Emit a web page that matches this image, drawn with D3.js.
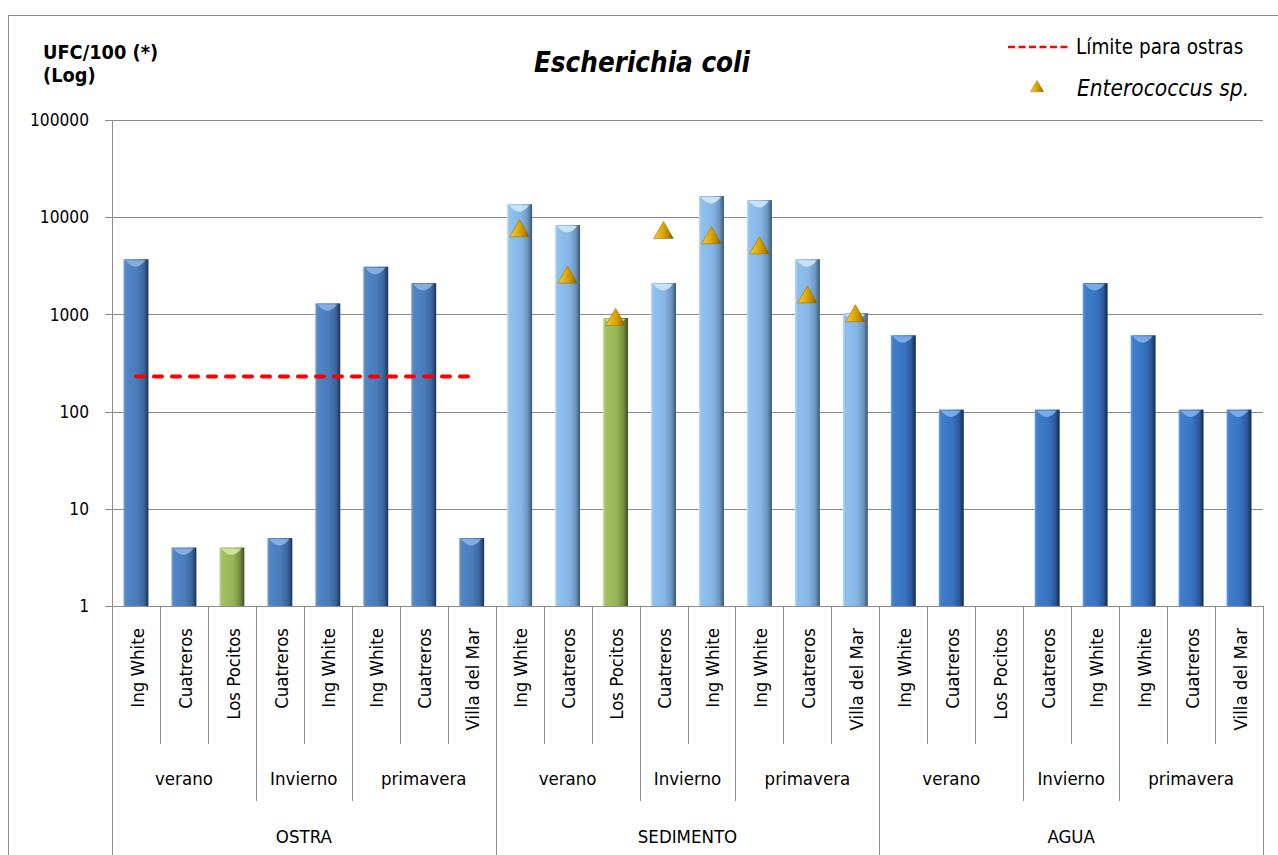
<!DOCTYPE html>
<html>
<head>
<meta charset="utf-8">
<script src="https://cdn.jsdelivr.net/npm/d3@7"></script>
<style>
  html, body { margin: 0; padding: 0; background: #ffffff; }
  svg { display: block; }
  text { font-family: "DejaVu Sans Condensed", "Liberation Sans", sans-serif; font-stretch: condensed; fill: #000; }
</style>
</head>
<body>
<svg id="chart" width="1278" height="855"></svg>
<script>
// ---------- data ----------
const groups = ["OSTRA", "SEDIMENTO", "AGUA"];
const seasons = ["verano", "Invierno", "primavera"];
const seasonSizes = [3, 2, 3];
const sites = [
  "Ing White", "Cuatreros", "Los Pocitos", "Cuatreros", "Ing White", "Ing White", "Cuatreros", "Villa del Mar",
  "Ing White", "Cuatreros", "Los Pocitos", "Cuatreros", "Ing White", "Ing White", "Cuatreros", "Villa del Mar",
  "Ing White", "Cuatreros", "Los Pocitos", "Cuatreros", "Ing White", "Ing White", "Cuatreros", "Villa del Mar"
];
const ecoli = [
  3700, 4, 4, 5, 1300, 3100, 2100, 5,
  13600, 8300, 920, 2100, 16500, 15000, 3700, 1030,
  610, 105, null, 105, 2100, 610, 105, 105
];
const enterococcus = [
  null, null, null, null, null, null, null, null,
  7200, 2400, 880, 6900, 6100, 4800, 1500, 960,
  null, null, null, null, null, null, null, null
];
const limite = [
  230, 230, 230, 230, 230, 230, 230, 230,
  null, null, null, null, null, null, null, null,
  null, null, null, null, null, null, null, null
];
const yTicks = [1, 10, 100, 1000, 10000, 100000];
const titleText = "Escherichia coli";
const yTitle = ["UFC/100 (*)", "(Log)"];
const legendLimit = "Límite para ostras";
const legendEntero = "Enterococcus sp.";

// ---------- layout ----------
const svg = d3.select("#chart");
const plot = { left: 112, right: 1263, top: 120, bottom: 606 };
const n = sites.length;
const perGroup = n / groups.length;

const x = d3.scaleBand().domain(d3.range(n)).range([plot.left, plot.right]).padding(0);
const y = d3.scaleLog().domain([1, 100000]).range([plot.bottom, plot.top]);
const bw = x.bandwidth() * 0.52;
const cx = i => x(i) + x.bandwidth() / 2;

// ---------- defs ----------
const defs = svg.append("defs");
const palettes = {
  ostra: ["#79a2d6", "#5185c4", "#4a7bbb", "#3b659c", "#1d3352"],
  sed:   ["#b8d9f7", "#90c0ec", "#86b6e6", "#6c96c2", "#3a5570"],
  agua:  ["#6a9ddd", "#3f7dcc", "#3874c2", "#2c5b99", "#15294a"],
  green: ["#c4dc92", "#a2c262", "#96b755", "#728d3e", "#3e4f22"]
};
const caps = { ostra: "#8db3e6", sed: "#cfe7fb", agua: "#7fb0ea", green: "#d2e6a6" };
Object.entries(palettes).forEach(([k, c]) => {
  const g = defs.append("linearGradient").attr("id", "g-" + k).attr("x1", "0").attr("x2", "1").attr("y1", "0").attr("y2", "0");
  [[0, c[0]], [0.1, c[1]], [0.55, c[2]], [0.82, c[3]], [1, c[4]]].forEach(([o, col]) =>
    g.append("stop").attr("offset", o).attr("stop-color", col));
});
const tg = defs.append("linearGradient").attr("id", "g-tri").attr("x1", "0").attr("x2", "1").attr("y1", "0").attr("y2", "0");
[[0, "#f6cc4a"], [0.45, "#e0a800"], [0.75, "#b78600"], [1, "#6e5000"]].forEach(([o, col]) =>
  tg.append("stop").attr("offset", o).attr("stop-color", col));

function paletteFor(i) {
  if (sites[i] === "Los Pocitos") return "green";
  const gi = Math.floor(i / perGroup);
  return ["ostra", "sed", "agua"][gi];
}

// ---------- outer frame ----------
svg.append("rect").attr("x", 8.5).attr("y", 15.5).attr("width", 1300).attr("height", 900)
  .attr("fill", "none").attr("stroke", "#8c8c8c").attr("stroke-width", 1);

// ---------- gridlines & y axis ----------
const gridCol = "#8c8c8c";
svg.append("g").selectAll("line").data(yTicks).join("line")
  .attr("x1", plot.left - 7).attr("x2", plot.right)
  .attr("y1", d => Math.round(y(d)) + 0.5).attr("y2", d => Math.round(y(d)) + 0.5)
  .attr("stroke", gridCol).attr("stroke-width", 1);

svg.append("g").selectAll("text").data(yTicks).join("text")
  .attr("x", 89).attr("y", d => y(d)).attr("dy", "0.36em")
  .attr("text-anchor", "end").attr("font-size", 17.2).text(d => d3.format("d")(d));

// left axis line
svg.append("line").attr("x1", plot.left + 0.5).attr("x2", plot.left + 0.5)
  .attr("y1", plot.top).attr("y2", 855).attr("stroke", gridCol);
svg.append("line").attr("x1", plot.right + 0.5).attr("x2", plot.right + 0.5)
  .attr("y1", plot.bottom).attr("y2", 855).attr("stroke", gridCol);

// ---------- category axis (multi-level) ----------
const lvl1 = 744, lvl2 = 801, lvl3 = 855;
const catAxis = svg.append("g");
const seasonStarts = [];
let acc = 0;
seasonSizes.forEach(s => { seasonStarts.push(acc); acc += s; });
for (let i = 1; i < n; i++) {
  const within = i % perGroup;
  let y2 = lvl1;
  if (within === 0) y2 = lvl3;
  else if (seasonStarts.includes(within)) y2 = lvl2;
  catAxis.append("line").attr("x1", Math.round(x(i)) + 0.5).attr("x2", Math.round(x(i)) + 0.5)
    .attr("y1", plot.bottom).attr("y2", y2).attr("stroke", gridCol);
}
catAxis.selectAll("text.site").data(sites).join("text").attr("class", "site")
  .attr("transform", (d, i) => `translate(${cx(i) + 1},628) rotate(-90)`)
  .attr("dy", "0.36em").attr("text-anchor", "end").attr("font-size", 18.5).text(d => d);

groups.forEach((gname, gi) => {
  const g0 = gi * perGroup;
  seasons.forEach((s, si) => {
    const a = g0 + seasonStarts[si], b = a + seasonSizes[si] - 1;
    catAxis.append("text").attr("x", (cx(a) + cx(b)) / 2).attr("y", 778).attr("dy", "0.36em")
      .attr("text-anchor", "middle").attr("font-size", 18.5).text(s);
  });
  catAxis.append("text").attr("x", (cx(g0) + cx(g0 + perGroup - 1)) / 2).attr("y", 836).attr("dy", "0.36em")
    .attr("text-anchor", "middle").attr("font-size", 18.5).text(gname);
});

// ---------- bars ----------
const barData = ecoli.map((v, i) => ({ v, i })).filter(d => d.v != null);
const bars = svg.append("g");
bars.selectAll("rect").data(barData).join("rect")
  .attr("x", d => cx(d.i) - bw / 2).attr("width", bw)
  .attr("y", d => y(d.v)).attr("height", d => y(1) - y(d.v))
  .attr("fill", d => `url(#g-${paletteFor(d.i)})`);
bars.selectAll("path").data(barData).join("path")
  .attr("d", d => {
    const x0 = cx(d.i) - bw / 2 + 2, x1 = cx(d.i) + bw / 2 - 3, t = y(d.v) + 1;
    return `M${x0},${t} L${x1},${t} Q${(x0 + x1) / 2},${t + 13} ${x0},${t} Z`;
  })
  .attr("fill", d => caps[paletteFor(d.i)]).attr("opacity", 0.9);

// ---------- limit line ----------
const limData = limite.map((v, i) => ({ v, i })).filter(d => d.v != null);
svg.append("path").datum(limData)
  .attr("d", d3.line().x(d => cx(d.i)).y(d => y(d.v)))
  .attr("fill", "none").attr("stroke", "#ff0000").attr("stroke-width", 4)
  .attr("stroke-dasharray", "8,10").attr("stroke-linecap", "round");

// ---------- enterococcus markers ----------
const triPath = d3.symbol(d3.symbolTriangle, 170)();
const entData = enterococcus.map((v, i) => ({ v, i })).filter(d => d.v != null);
svg.append("g").selectAll("path").data(entData).join("path")
  .attr("transform", d => `translate(${cx(d.i)},${y(d.v)})`)
  .attr("d", triPath).attr("fill", "url(#g-tri)").attr("stroke", "#9a7400").attr("stroke-width", 0.6);

// ---------- titles ----------
svg.append("text").attr("x", 642).attr("y", 72).attr("text-anchor", "middle")
  .attr("font-size", 27.5).attr("font-weight", "bold").attr("font-style", "italic").text(titleText);
svg.append("text").attr("x", 43).attr("y", 59).attr("font-size", 19.8).attr("font-weight", "bold").text(yTitle[0]);
svg.append("text").attr("x", 43).attr("y", 82).attr("font-size", 19.8).attr("font-weight", "bold").text(yTitle[1]);

// ---------- legend ----------
const lg = svg.append("g");
lg.append("line").attr("x1", 1008).attr("x2", 1070).attr("y1", 47).attr("y2", 47)
  .attr("stroke", "#ff0000").attr("stroke-width", 2.5).attr("stroke-dasharray", "7,3.5");
lg.append("text").attr("x", 1076).attr("y", 47).attr("dy", "0.36em").attr("font-size", 20.5).text(legendLimit);
lg.append("path").attr("transform", "translate(1037,88)").attr("d", d3.symbol(d3.symbolTriangle, 75)())
  .attr("fill", "url(#g-tri)").attr("stroke", "#9a7400").attr("stroke-width", 0.5);
lg.append("text").attr("x", 1077).attr("y", 88).attr("dy", "0.36em").attr("font-size", 22.5)
  .attr("font-style", "italic").text(legendEntero);
</script>
</body>
</html>
